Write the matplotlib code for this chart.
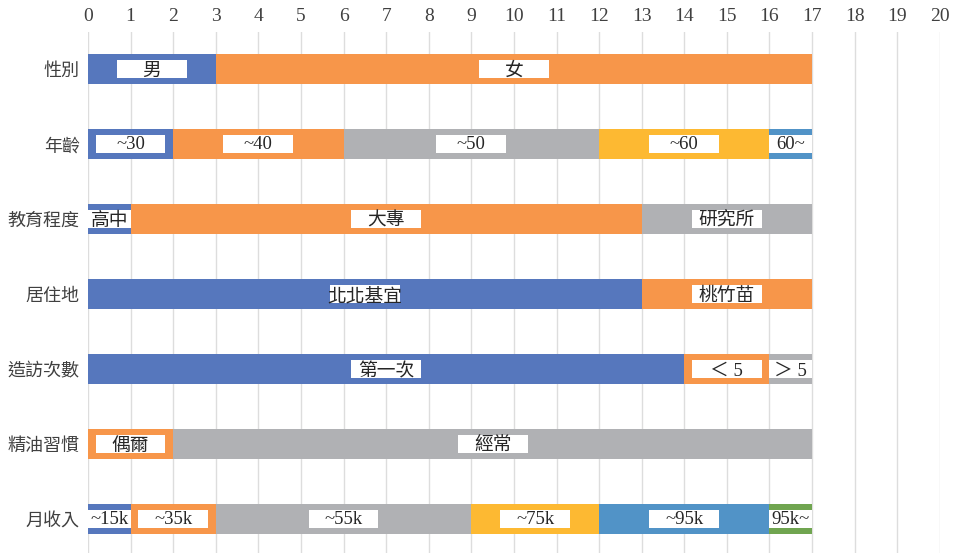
import matplotlib.pyplot as plt
from matplotlib.patches import Rectangle

categories = ['性別', '年齡', '教育程度', '居住地', '造訪次數', '精油習慣', '月收入']
values = [
    [3, 14],
    [2, 4, 6, 4, 1],
    [1, 12, 4],
    [13, 4],
    [14, 2, 1],
    [0, 2, 15],
    [1, 2, 6, 3, 4, 1],
]
labels = [
    ['男', '女'],
    ['~30', '~40', '~50', '~60', '60~'],
    ['高中', '大專', '研究所'],
    ['北北基宜', '桃竹苗'],
    ['第一次', '＜ 5', '＞ 5'],
    ['', '偶爾', '經常'],
    ['~15k', '~35k', '~55k', '~75k', '~95k', '95k~'],
]
colors = ['#5677BD', '#F7964A', '#B0B1B4', '#FDB932', '#5193C7', '#70A550']

fam = ['Liberation Serif', 'Noto Sans CJK TC']

fig = plt.figure(figsize=(9.54, 5.53), dpi=100)
ax = fig.add_axes([0.0922, 0.0, 0.893, 0.943])

for i, (vals, labs) in enumerate(zip(values, labels)):
    left = 0
    for j, (v, lab) in enumerate(zip(vals, labs)):
        if v > 0:
            ax.barh(i, v, left=left, height=0.4, color=colors[j], zorder=2)
            c = left + v / 2
            w = min(1.64, v)
            ax.add_patch(Rectangle((c - w / 2, i - 0.12), w, 0.24,
                                   facecolor='white', edgecolor='none', zorder=3))
            cjk = any(ord(ch) > 0x2E80 for ch in lab)
            ax.text(c, i + (0.03 if cjk else 0.01), lab, ha='center', va='center',
                    fontsize=13.5, family=fam, color='#262626', zorder=4)
        left += v

ax.set_xlim(0, 20)
ax.set_ylim(6.45, -0.5)
ax.set_xticks(range(0, 21))
ax.xaxis.tick_top()
ax.tick_params(axis='x', length=0, pad=5, labelsize=14, labelcolor='#404040')
ax.tick_params(axis='y', length=0, pad=6)
for t in ax.get_xticklabels():
    t.set_family('Liberation Serif')
ax.set_yticks(range(len(categories)))
ax.set_yticklabels(categories, fontsize=13, family='Noto Sans CJK TC', color='#404040')
ax.grid(axis='x', color='#DDDDDD', linewidth=1, zorder=0)
for s in ax.spines.values():
    s.set_visible(False)

fig.savefig('out.png', dpi=100)
